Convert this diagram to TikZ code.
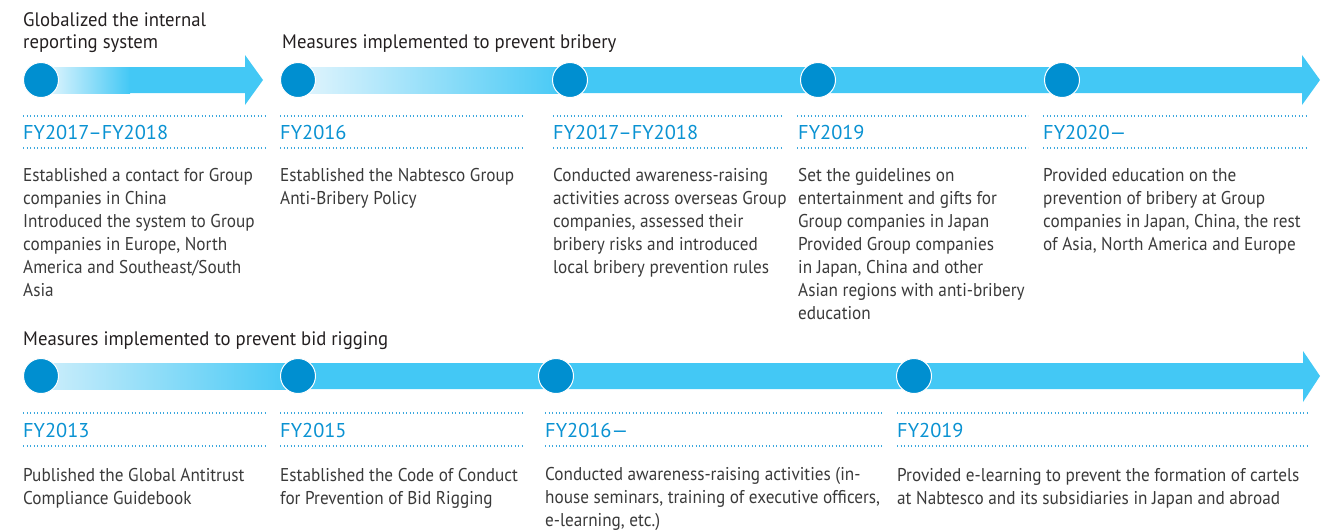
\documentclass[tikz,border=0pt]{standalone}
\usepackage{fontspec}
\setmainfont{PT Sans}[FakeStretch=0.93]
\newfontfamily\titlefont{PT Sans}[FakeStretch=0.96]
\newfontfamily\fyfont{PT Sans}[FakeStretch=1.02]
\definecolor{barc}{HTML}{43C8F5}
\definecolor{dotc}{HTML}{008FD0}
\definecolor{fyc}{HTML}{0A92D2}
\definecolor{bodyc}{HTML}{3A3A3A}
\definecolor{titlec}{HTML}{231F20}
\definecolor{linec}{HTML}{3BA8DE}
\definecolor{paleA}{HTML}{EEF9FE}
\definecolor{paleB}{HTML}{E3F5FD}
\definecolor{paleC}{HTML}{CDEEFB}
\tikzset{
  milestone/.style={circle, fill=dotc, draw=white, line width=1pt, minimum size=35pt, inner sep=0pt},
  titletext/.style={anchor=base west, inner sep=0pt, align=left, text=titlec, font=\titlefont\fontsize{19.5}{22}\selectfont},
  bodytext/.style={anchor=base west, inner sep=0pt, align=left, text=bodyc, font=\fontsize{18.5}{23}\selectfont},
  fytext/.style={anchor=base west, inner sep=0pt, text=fyc, font=\fyfont\fontsize{20}{22}\selectfont},
  dotline/.style={draw=linec, line width=1.3pt, dash pattern=on 1.3pt off 2.2pt},
  barfill/.style={fill=barc, draw=none}
}
\begin{document}
\begin{tikzpicture}[x=1pt,y=-1pt]
\useasboundingbox (0,0) rectangle (1332,531);

% ---------- arrows ----------
\shade[left color=paleA, right color=barc] (41,67) rectangle (130,93);
\fill[barfill] (129.5,67) -- (245,67) -- (245,55) -- (263,80) -- (245,105) -- (245,93) -- (129.5,93) -- cycle;

\shade[left color=paleB, right color=barc] (298,67) rectangle (570,93);
\fill[barfill] (569.5,67) -- (1302,67) -- (1302,55) -- (1320,80) -- (1302,105) -- (1302,93) -- (569.5,93) -- cycle;

\shade[left color=paleC, right color=barc] (41,363) rectangle (298,389);
\fill[barfill] (297.5,363) -- (1303,363) -- (1303,351) -- (1320,376) -- (1303,402) -- (1303,389) -- (297.5,389) -- cycle;

% ---------- milestones ----------
\node[milestone] (t1) at (41,80) {};
\node[milestone] (t2) at (298,80) {};
\node[milestone] (t3) at (570,80) {};
\node[milestone] (t4) at (818,80) {};
\node[milestone] (t5) at (1062,80) {};
\node[milestone] (b1) at (41,376) {};
\node[milestone] (b2) at (298,376) {};
\node[milestone] (b3) at (556,376) {};
\node[milestone] (b4) at (914,376) {};

% ---------- titles (anchored at the baseline of the last line) ----------
\node[titletext] (h1) at (23,48) {Globalized the internal\\reporting system};
\node[titletext] (h2) at (282,48) {Measures implemented to prevent bribery};
\node[titletext] (h3) at (23,345) {Measures implemented to prevent bid rigging};

% ---------- dotted rules ----------
\foreach \a/\b in {23/265, 280/523, 553/782, 797/1028, 1043/1308}{
  \draw[dotline] (\a,116) -- (\b,116);
  \draw[dotline] (\a,148) -- (\b,148);
}
\foreach \a/\b in {23/265, 280/523, 545/882, 897/1308}{
  \draw[dotline] (\a,413) -- (\b,413);
  \draw[dotline] (\a,446) -- (\b,446);
}

% ---------- years ----------
\node[fytext] (y1) at (23,139) {FY2017–FY2018};
\node[fytext] (y2) at (280,139) {FY2016};
\node[fytext] (y3) at (553,139) {FY2017–FY2018};
\node[fytext] (y4) at (798,139) {FY2019};
\node[fytext] (y5) at (1043,139) {FY2020—};
\node[fytext] (z1) at (23,437) {FY2013};
\node[fytext] (z2) at (280,437) {FY2015};
\node[fytext] (z3) at (545,437) {FY2016—};
\node[fytext] (z4) at (897,437) {FY2019};

% ---------- descriptions (anchored at the baseline of the last line) ----------
\node[bodytext] (d1) at (23,296) {Established a contact for Group\\companies in China\\Introduced the system to Group\\companies in Europe, North\\America and Southeast/South\\Asia};
\node[bodytext] (d2) at (280,204) {Established the Nabtesco Group\\Anti-Bribery Policy};
\node[bodytext] (d3) at (553,273) {Conducted awareness-raising\\activities across overseas Group\\companies, assessed their\\bribery risks and introduced\\local bribery prevention rules};
\node[bodytext] (d4) at (798,319) {Set the guidelines on\\entertainment and gifts for\\Group companies in Japan\\Provided Group companies\\in Japan, China and other\\Asian regions with anti-bribery\\education};
\node[bodytext] (d5) at (1043,250) {Provided education on the\\prevention of bribery at Group\\companies in Japan, China, the rest\\of Asia, North America and Europe};
\node[bodytext] (e1) at (23,504) {Published the Global Antitrust\\Compliance Guidebook};
\node[bodytext] (e2) at (280,504) {Established the Code of Conduct\\for Prevention of Bid Rigging};
\node[bodytext] (e3) at (545,526) {Conducted awareness-raising activities (in-\\house seminars, training of executive officers,\\e-learning, etc.)};
\node[bodytext] (e4) at (897,504) {Provided e-learning to prevent the formation of cartels\\at Nabtesco and its subsidiaries in Japan and abroad};
\end{tikzpicture}
\end{document}
